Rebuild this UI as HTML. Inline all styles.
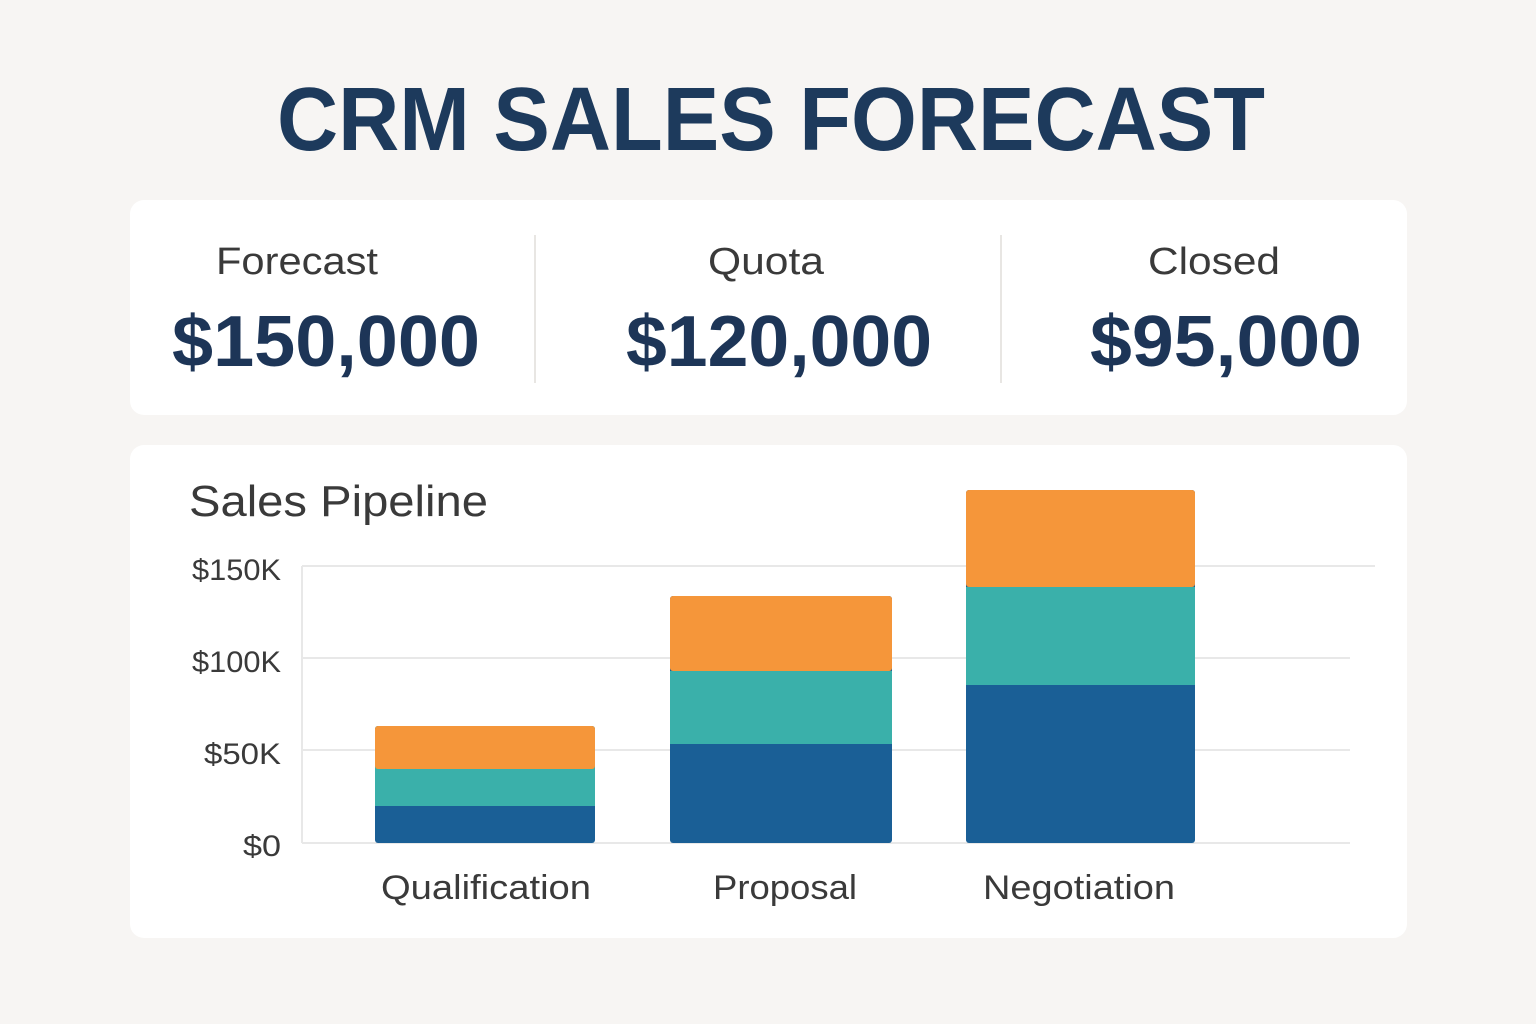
<!DOCTYPE html>
<html><head><meta charset="utf-8"><style>
html,body{margin:0;padding:0;background:#f7f5f3;}
svg{display:block;}
text{font-family:"Liberation Sans",sans-serif;}
</style></head><body>
<svg width="1536" height="1024" viewBox="0 0 1536 1024" xmlns="http://www.w3.org/2000/svg">
<rect width="1536" height="1024" fill="#f7f5f3"/>
<text x="771" y="150" text-anchor="middle" font-size="90" font-weight="bold" fill="#1d3a5c" textLength="988" lengthAdjust="spacingAndGlyphs">CRM SALES FORECAST</text>

<rect x="130" y="200" width="1277" height="215" rx="14" fill="#ffffff"/>
<line x1="535" y1="235" x2="535" y2="383" stroke="#e8e6e3" stroke-width="2"/>
<line x1="1001" y1="235" x2="1001" y2="383" stroke="#e8e6e3" stroke-width="2"/>
<text x="297" y="274" text-anchor="middle" font-size="38" fill="#3a3a3a" textLength="162" lengthAdjust="spacingAndGlyphs">Forecast</text>
<text x="766" y="274" text-anchor="middle" font-size="38" fill="#3a3a3a" textLength="116" lengthAdjust="spacingAndGlyphs">Quota</text>
<text x="1214" y="274" text-anchor="middle" font-size="38" fill="#3a3a3a" textLength="132" lengthAdjust="spacingAndGlyphs">Closed</text>
<text x="326" y="366" text-anchor="middle" font-size="72" font-weight="bold" fill="#1d3557" textLength="308" lengthAdjust="spacingAndGlyphs">$150,000</text>
<text x="779" y="366" text-anchor="middle" font-size="72" font-weight="bold" fill="#1d3557" textLength="306" lengthAdjust="spacingAndGlyphs">$120,000</text>
<text x="1226" y="366" text-anchor="middle" font-size="72" font-weight="bold" fill="#1d3557" textLength="272" lengthAdjust="spacingAndGlyphs">$95,000</text>

<rect x="130" y="445" width="1277" height="493" rx="14" fill="#ffffff"/>
<text x="189" y="516" font-size="44" fill="#3a3a3a" textLength="299" lengthAdjust="spacingAndGlyphs">Sales Pipeline</text>

<g stroke="#e8e8e8" stroke-width="2">
<line x1="302" y1="566" x2="1375" y2="566"/>
<line x1="302" y1="658" x2="1350" y2="658"/>
<line x1="302" y1="750" x2="1350" y2="750"/>
<line x1="302" y1="843" x2="1350" y2="843"/>
<line x1="302" y1="566" x2="302" y2="843"/>
</g>
<g font-size="30" fill="#3a3a3a" text-anchor="end">
<text x="281" y="580" textLength="89" lengthAdjust="spacingAndGlyphs">$150K</text>
<text x="281" y="672" textLength="89" lengthAdjust="spacingAndGlyphs">$100K</text>
<text x="281" y="764" textLength="77" lengthAdjust="spacingAndGlyphs">$50K</text>
<text x="281" y="856" textLength="38" lengthAdjust="spacingAndGlyphs">$0</text>
</g>

<g>
<rect x="375" y="726" width="220" height="117" rx="3" fill="#1a5f96"/>
<rect x="375" y="726" width="220" height="80" rx="3" fill="#3ab0aa"/>
<rect x="375" y="769" width="220" height="37" fill="#3ab0aa"/>
<rect x="375" y="726" width="220" height="43" rx="3" fill="#f5963a"/>

<rect x="670" y="596" width="222" height="247" rx="3" fill="#1a5f96"/>
<rect x="670" y="671" width="222" height="73" fill="#3ab0aa"/>
<rect x="670" y="596" width="222" height="75" rx="3" fill="#f5963a"/>

<rect x="966" y="490" width="229" height="353" rx="3" fill="#1a5f96"/>
<rect x="966" y="587" width="229" height="98" fill="#3ab0aa"/>
<rect x="966" y="490" width="229" height="97" rx="3" fill="#f5963a"/>
</g>

<g font-size="34" fill="#3a3a3a" text-anchor="middle">
<text x="486" y="899" textLength="210" lengthAdjust="spacingAndGlyphs">Qualification</text>
<text x="785" y="899" textLength="144" lengthAdjust="spacingAndGlyphs">Proposal</text>
<text x="1079" y="899" textLength="192" lengthAdjust="spacingAndGlyphs">Negotiation</text>
</g>
</svg>
</body></html>
